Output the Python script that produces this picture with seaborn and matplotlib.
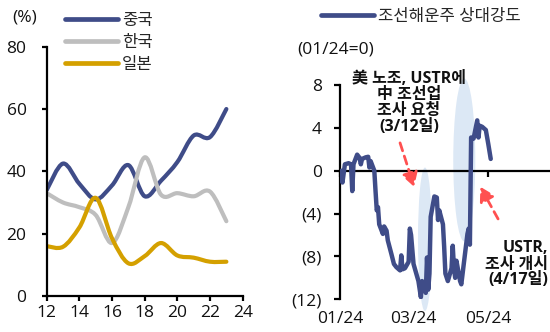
import numpy as np
import pandas as pd
import matplotlib
matplotlib.use("Agg")
import matplotlib.pyplot as plt
import matplotlib.dates as mdates
from matplotlib.patches import Ellipse, PathPatch
from matplotlib.path import Path
from matplotlib.ticker import FuncFormatter, MultipleLocator
import seaborn as sns

# ---- left panel: share by country (%) ----
years = [12, 13, 14, 15, 16, 17, 18, 19, 20, 21, 22, 23]
china = [34.0, 42.5, 36.0, 31.0, 35.5, 42.0, 32.0, 37.0, 43.0, 51.5, 51.0, 60.0]
korea = [33.0, 30.0, 28.5, 26.0, 17.0, 28.5, 44.5, 32.5, 33.0, 32.0, 33.5, 24.0]
japan = [16.0, 15.8, 22.0, 31.5, 18.5, 10.5, 12.8, 17.0, 13.0, 12.3, 11.0, 11.0]
countries = ["중국", "한국", "일본"]
country_colors = ["#3F4C88", "#BEBEBE", "#D4A000"]

# ---- right panel: shipbuilding/shipping relative strength (01/24 = 0) ----
rs_dates = [
    "2024-01-02", "2024-01-03", "2024-01-05", "2024-01-08", "2024-01-10",
    "2024-01-11", "2024-01-12", "2024-01-15", "2024-01-17", "2024-01-18",
    "2024-01-19", "2024-01-22", "2024-01-24", "2024-01-25", "2024-01-26",
    "2024-01-29", "2024-01-30", "2024-01-31", "2024-02-01", "2024-02-02",
    "2024-02-05", "2024-02-06", "2024-02-08", "2024-02-09", "2024-02-12",
    "2024-02-14", "2024-02-16", "2024-02-19", "2024-02-20", "2024-02-21",
    "2024-02-23", "2024-02-26", "2024-02-27", "2024-02-28", "2024-03-01",
    "2024-03-04", "2024-03-05", "2024-03-07", "2024-03-08", "2024-03-11",
    "2024-03-12", "2024-03-13", "2024-03-14", "2024-03-15", "2024-03-18",
    "2024-03-20", "2024-03-21", "2024-03-22", "2024-03-25", "2024-03-26",
    "2024-03-27", "2024-03-29", "2024-04-01", "2024-04-02", "2024-04-03",
    "2024-04-04", "2024-04-05", "2024-04-08", "2024-04-09", "2024-04-11",
    "2024-04-14", "2024-04-15", "2024-04-16", "2024-04-17", "2024-04-19",
    "2024-04-22", "2024-04-23", "2024-04-24", "2024-04-26", "2024-04-29",
    "2024-05-01", "2024-05-03",
]
rs_values = [
    0.0, -1.1, 0.6, 0.7, 0.6,
    -1.9, 0.6, 1.5, 1.2, 0.6,
    1.1, 1.25, 1.3, 0.3, 0.9,
    0.0, -1.9, -3.7, -3.4, -5.0,
    -5.9, -5.2, -5.6, -6.5, -7.8,
    -8.7, -9.0, -9.3, -7.9, -9.2,
    -9.1, -8.5, -5.4, -6.0, -8.7,
    -9.9, -10.3, -11.8, -10.3, -11.4,
    -8.1, -11.1, -9.6, -4.3, -2.4,
    -2.5, -4.6, -3.7, -5.0, -7.1,
    -9.6, -10.3, -9.1, -7.0, -9.1,
    -10.0, -8.4, -10.3, -10.6, -8.7,
    -5.9, -5.4, -6.9, 3.1, 3.0,
    4.7, 3.1, 4.2, 4.1, 3.8,
    2.5, 1.1,
]
rs_label = "조선해운주 상대강도"
rs_color = "#3F4C88"
date_ticks = ["2024-01-01", "2024-03-01", "2024-05-01"]

sns.set_theme(style="white")
plt.rcParams["font.family"] = ["Open Sans", "Noto Sans CJK KR"]
plt.rcParams["axes.unicode_minus"] = False

W, H = 550, 332
fig = plt.figure(figsize=(W / 100, H / 100), dpi=100)


def fx(px):
    return px / W


def fy(py):
    return 1 - py / H


def smooth_path(xs, ys):
    """Cubic Bezier path through the points (Catmull-Rom style tangents)."""
    p = np.column_stack([xs, ys]).astype(float)
    ext = np.vstack([p[0], p, p[-1]])
    verts = [p[0]]
    codes = [Path.MOVETO]
    for i in range(1, len(ext) - 2):
        c1 = ext[i] + (ext[i + 1] - ext[i - 1]) / 6.0
        c2 = ext[i + 1] - (ext[i + 2] - ext[i]) / 6.0
        verts += [c1, c2, ext[i + 1]]
        codes += [Path.CURVE4] * 3
    return Path(verts, codes)


# ================= left panel =================
ax1 = fig.add_axes([fx(46.7), fy(296), fx(242.7) - fx(46.7), fy(46.7) - fy(296)])
share = pd.DataFrame({
    "year": years * 3,
    "share": china + korea + japan,
    "country": [countries[0]] * len(years) + [countries[1]] * len(years)
               + [countries[2]] * len(years),
})
sns.lineplot(data=share, x="year", y="share", hue="country", hue_order=countries,
             palette=dict(zip(countries, country_colors)), linewidth=3,
             ax=ax1, legend=True)
ax1.set_xlim(12, 24)
ax1.set_ylim(0, 80)
ax1.xaxis.set_major_locator(MultipleLocator(2))
ax1.yaxis.set_major_locator(MultipleLocator(20))
ax1.set_xlabel("")
ax1.set_ylabel("")
for s in ["top", "right"]:
    ax1.spines[s].set_visible(False)
for s in ["left", "bottom"]:
    ax1.spines[s].set_color("black")
    ax1.spines[s].set_linewidth(1.6)
ax1.tick_params(axis="both", direction="out", length=3.5, width=1.6,
                color="black", labelsize=12.5, labelcolor="#111111")
ax1.tick_params(axis="x", pad=3)
ax1.tick_params(axis="y", pad=11)
ax1.xaxis.set_ticks_position("bottom")
ax1.yaxis.set_ticks_position("left")
fig.text(fx(25), fy(17), "(%)", ha="center", va="center", fontsize=12.5,
         color="#111111")

h1, l1 = ax1.get_legend_handles_labels()
for h in h1:
    h.set_linewidth(3.4)
    h.set_solid_capstyle("round")
ax1.legend(h1, l1, loc="center left", bbox_to_anchor=(fx(65), fy(43)),
           bbox_transform=fig.transFigure, frameon=False, fontsize=12,
           handlelength=3.2, handletextpad=0.2, labelspacing=0.35,
           borderpad=0, borderaxespad=0)

# render the yearly series as smoothed curves through the same points
for ln in list(ax1.get_lines()):
    xd, yd = ln.get_xdata(), ln.get_ydata()
    if len(xd) < 2:
        continue
    patch = PathPatch(smooth_path(xd, yd), facecolor="none",
                      edgecolor=ln.get_color(), linewidth=ln.get_linewidth(),
                      capstyle="round", joinstyle="round",
                      transform=ax1.transData, zorder=ln.get_zorder())
    ax1.add_patch(patch)
    ln.set_visible(False)

# ================= right panel =================
ax2 = fig.add_axes([fx(340), fy(299.3), fx(552) - fx(340), fy(85) - fy(299.3)])
rs = pd.DataFrame({"date": pd.to_datetime(rs_dates), "value": rs_values,
                   "series": rs_label})

# highlight bands around the two events (drawn under the line)
ev1 = mdates.date2num(pd.Timestamp("2024-03-10 08:00"))
ev2 = mdates.date2num(pd.Timestamp("2024-04-11 10:00"))
ax2.add_patch(Ellipse((ev1, -6.4), 11.4, 13.4, facecolor="#DCE8F5",
                      edgecolor="none", zorder=1, clip_on=False))
ax2.add_patch(Ellipse((ev2, 1.0), 18.0, 15.2, facecolor="#DCE8F5",
                      edgecolor="none", zorder=1, clip_on=False))

sns.lineplot(data=rs, x="date", y="value", hue="series",
             palette={rs_label: rs_color}, linewidth=3.2, ax=ax2, legend=True,
             zorder=3)
for ln in ax2.get_lines():
    ln.set_solid_joinstyle("round")
    ln.set_solid_capstyle("round")

ax2.set_xlim(mdates.date2num(pd.Timestamp("2024-01-01")),
             mdates.date2num(pd.Timestamp("2024-06-22")))
ax2.set_ylim(-12, 8)
ax2.yaxis.set_major_locator(MultipleLocator(4))
ax2.yaxis.set_major_formatter(FuncFormatter(
    lambda v, p: f"({abs(v):.0f})" if v < 0 else f"{v:.0f}"))
ax2.set_xticks(pd.to_datetime(date_ticks))
ax2.xaxis.set_major_formatter(mdates.DateFormatter("%m/%y"))
ax2.set_xlabel("")
ax2.set_ylabel("")
for s in ["top", "right"]:
    ax2.spines[s].set_visible(False)
ax2.spines["bottom"].set_position(("data", 0))
for s in ["left", "bottom"]:
    ax2.spines[s].set_color("black")
    ax2.spines[s].set_linewidth(1.6)
    ax2.spines[s].set_zorder(2.5)
ax2.tick_params(axis="both", direction="out", length=4, width=1.6,
                color="black", labelsize=12.5, labelcolor="#111111")
ax2.tick_params(axis="x", pad=97)
ax2.tick_params(axis="y", pad=9)
ax2.xaxis.set_ticks_position("bottom")
ax2.yaxis.set_ticks_position("left")
ax2.set_facecolor("none")

fig.text(fx(336), fy(50), "(01/24=0)", ha="center", va="center",
         fontsize=12.5, color="#111111")

h2, l2 = ax2.get_legend_handles_labels()
for h in h2:
    h.set_linewidth(3.4)
    h.set_solid_capstyle("round")
ax2.legend(h2, l2, loc="center left", bbox_to_anchor=(fx(321), fy(17)),
           bbox_transform=fig.transFigure, frameon=False, fontsize=12,
           handlelength=3.2, handletextpad=0.2, borderpad=0, borderaxespad=0)

# event notes
fig.text(fx(409), fy(102.5), "美 노조, USTR에\n中 조선업\n조사 요청\n(3/12일)",
         ha="center", va="center", multialignment="center", fontsize=11.5,
         fontweight="bold", color="#111111", linespacing=1.0)
fig.text(fx(548.5), fy(264.5), "USTR,\n조사 개시\n(4/17일)",
         ha="right", va="center", multialignment="right", fontsize=11.5,
         fontweight="bold", color="#111111", linespacing=1.0)

arrow_kw = dict(arrowstyle="-|>,head_length=0.6,head_width=0.35",
                color="#FF5050", lw=2, linestyle=(0, (3, 2)),
                shrinkA=0, shrinkB=0, mutation_scale=14)
ax2.annotate("", xy=(mdates.date2num(pd.Timestamp("2024-03-01 12:00")), -1.5),
             xytext=(mdates.date2num(pd.Timestamp("2024-02-19")), 2.6),
             arrowprops=arrow_kw, annotation_clip=False, zorder=4)
ax2.annotate("", xy=(mdates.date2num(pd.Timestamp("2024-04-24 12:00")), -1.5),
             xytext=(mdates.date2num(pd.Timestamp("2024-05-09")), -4.5),
             arrowprops=arrow_kw, annotation_clip=False, zorder=4)

fig.savefig("out.png", dpi=100)
